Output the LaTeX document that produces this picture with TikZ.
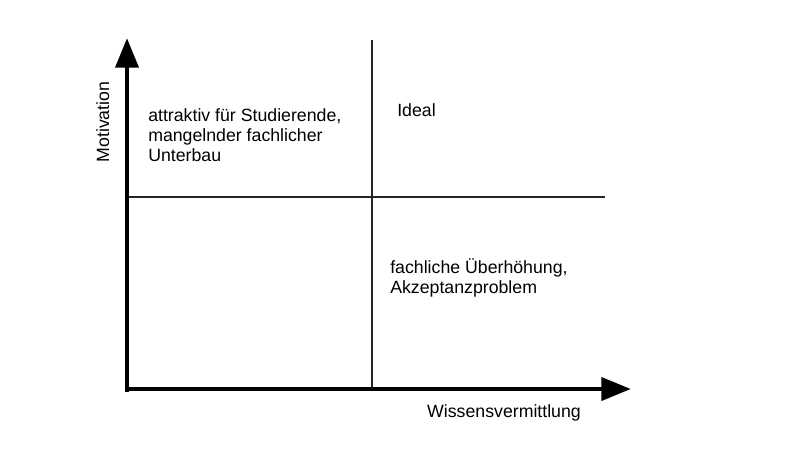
\documentclass[tikz,border=0pt]{standalone}
\usepackage{fontspec}
\setmainfont{Liberation Sans}
\usetikzlibrary{arrows.meta}

\begin{document}
\begin{tikzpicture}[x=0.025cm,y=-0.025cm,
  axis/.style={line width=3.5pt,-{Triangle[width=16pt,length=21pt]}},
  divider/.style={line width=0.9pt,black!85},
  quadrant/.style={anchor=base west,align=left,inner sep=0pt,font=\fontsize{12.6}{14.2}\selectfont},
  axislabel/.style={anchor=base,inner sep=0pt,font=\fontsize{12.6}{14.2}\selectfont}]
\useasboundingbox (0,0) rectangle (800,450);

% corners of the quadrant chart
\coordinate (ybottom) at (127,391.5);
\coordinate (ytip) at (127,38);
\coordinate (xleft) at (124.5,389);
\coordinate (xtip) at (631,389);
\coordinate (vtop) at (372,40);
\coordinate (vbottom) at (372,389);
\coordinate (hleft) at (127,197);
\coordinate (hright) at (605,197);

\draw[divider] (vtop) -- (vbottom);
\draw[divider] (hleft) -- (hright);
\draw[axis] (ybottom) -- (ytip);
\draw[axis] (xleft) -- (xtip);

\node[axislabel,rotate=90] (motivation) at (109,122) {Motivation};
\node[axislabel] (wissen) at (504,417) {Wissensvermittlung};

% multi-line nodes sit on the baseline of their last line
\node[quadrant] (topleft) at (148,161) {attraktiv für Studierende,\\mangelnder fachlicher\\Unterbau};
\node[quadrant] (topright) at (397,116) {Ideal};
\node[quadrant] (bottomright) at (390,293) {fachliche Überhöhung,\\Akzeptanzproblem};
\end{tikzpicture}
\end{document}
